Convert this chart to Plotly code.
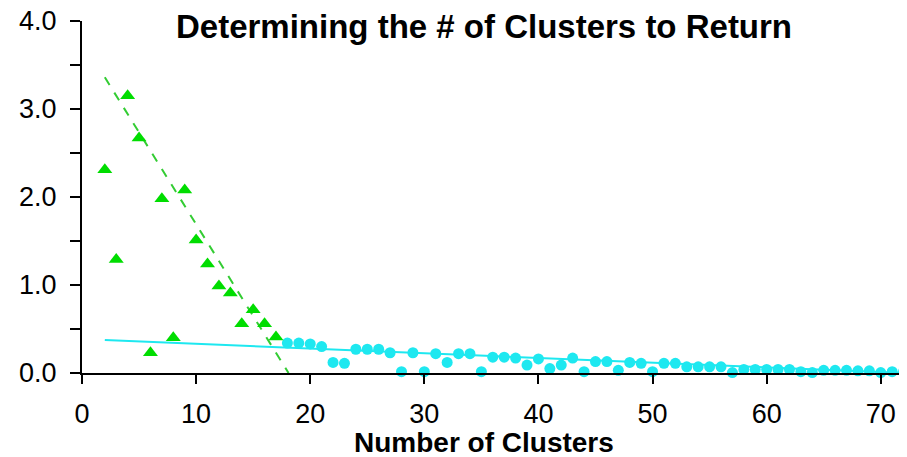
import plotly.graph_objects as go

# Green triangles (clusters 2-17)
green_x = [2, 3, 4, 5, 6, 7, 8, 9, 10, 11, 12, 13, 14, 15, 16, 17]
green_y = [2.31, 1.29, 3.15, 2.67, 0.23, 1.98, 0.40, 2.08, 1.51, 1.24, 0.99, 0.91, 0.56, 0.72, 0.56, 0.41]

# Cyan circles (clusters 18-72)
cyan_x = list(range(18, 73))
cyan_y = [0.34, 0.34, 0.33, 0.30, 0.12, 0.11, 0.27, 0.27, 0.27, 0.23,
          0.015, 0.23, 0.015, 0.22, 0.12, 0.22, 0.22, 0.015, 0.18, 0.18,
          0.17, 0.09, 0.16, 0.05, 0.09, 0.17, 0.015, 0.13, 0.13, 0.03,
          0.12, 0.11, 0.015, 0.11, 0.11, 0.07, 0.07, 0.07, 0.07, 0.005,
          0.04, 0.04, 0.04, 0.04, 0.04, 0.015, 0.005, 0.03, 0.03, 0.03,
          0.025, 0.025, 0.005, 0.015, 0.015]

# Fit lines (endpoints)
green_fit_x = [2, 18.1]
green_fit_y = [3.36, 0.0]
cyan_fit_x = [2, 72]
cyan_fit_y = [0.375, 0.0]

y_tick_vals = [0, 0.5, 1, 1.5, 2, 2.5, 3, 3.5, 4]
y_tick_text = ["0.0", "", "1.0", "", "2.0", "", "3.0", "", "4.0"]
x_tick_vals = [0, 10, 20, 30, 40, 50, 60, 70]

GREEN = "#00dd00"
CYAN = "#1ee8f0"

# The page body has an 8px default margin, so the figure is sized to fit.
W, H = 899, 449

fig = go.Figure()
fig.add_trace(go.Scatter(x=cyan_fit_x, y=cyan_fit_y, mode="lines",
                         line=dict(color=CYAN, width=2), showlegend=False))
fig.add_trace(go.Scatter(x=cyan_x, y=cyan_y, mode="markers",
                         marker=dict(color=CYAN, size=11, symbol="circle"),
                         showlegend=False, cliponaxis=False))
fig.add_trace(go.Scatter(x=green_fit_x, y=green_fit_y, mode="lines",
                         line=dict(color="#33cc33", width=2, dash="dash"),
                         showlegend=False))
fig.add_trace(go.Scatter(x=green_x, y=green_y, mode="markers",
                         marker=dict(color=GREEN, size=13, symbol="triangle-up"),
                         showlegend=False, cliponaxis=False))

font_family = "Liberation Sans, Arial, sans-serif"

fig.update_layout(
    width=W, height=H,
    margin=dict(l=74, r=0, t=13, b=84, autoexpand=False),
    paper_bgcolor="white", plot_bgcolor="white",
    font=dict(family=font_family, color="black"),
    title=dict(text="<b>Determining the # of Clusters to Return</b>",
               x=476 / W, xanchor="center", xref="container",
               y=1 - 18 / H, yanchor="middle", yref="container",
               font=dict(size=33, family=font_family, color="black")),
    xaxis=dict(range=[0, 72.3], tickvals=x_tick_vals, ticks="outside",
               ticklen=9, tickwidth=2, tickcolor="black",
               showline=True, linecolor="black", linewidth=2,
               showgrid=False, zeroline=False, automargin=False,
               tickfont=dict(size=27, family=font_family, color="black"),
               ticklabelstandoff=7, ticklabeloverflow="allow"),
    yaxis=dict(range=[0, 4], tickvals=y_tick_vals, ticktext=y_tick_text,
               ticks="outside", ticklen=10, tickwidth=2, tickcolor="black",
               showline=True, linecolor="black", linewidth=2,
               showgrid=False, zeroline=False, automargin=False,
               tickfont=dict(size=27, family=font_family, color="black"),
               ticklabelstandoff=8, ticklabeloverflow="allow"),
    annotations=[dict(text="<b>Number of Clusters</b>", xref="paper", yref="paper",
                      x=(484 - 82) / 825, y=-(443 - 373) / 352,
                      xanchor="center", yanchor="middle", showarrow=False,
                      font=dict(size=28, family=font_family, color="black"))],
)

fig.write_html("out.html")
